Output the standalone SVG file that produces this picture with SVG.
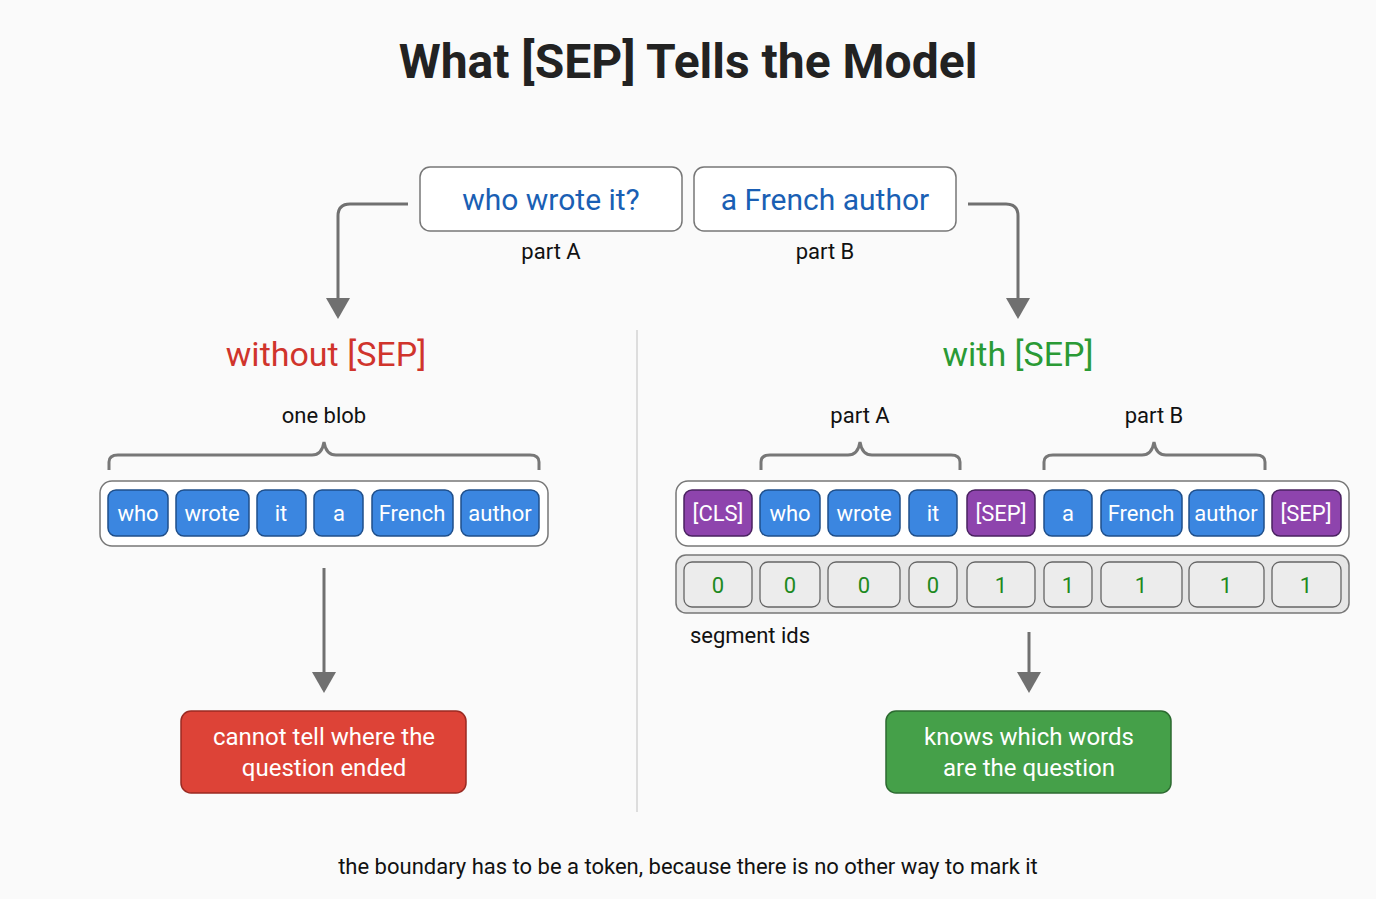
<svg xmlns="http://www.w3.org/2000/svg" width="1376" height="899" viewBox="0 0 1376 899">
<style>
text{font-family:Roboto,"Liberation Sans",sans-serif;text-anchor:middle}
.tok{fill:#3b86e0;stroke:#1f4f8a;stroke-width:1.5}
.sp{fill:#8e44ad;stroke:#4a2260;stroke-width:1.5}
.tt{fill:#fff;font-size:22px}
.seg{fill:#ececec;stroke:#666;stroke-width:1.3}
.st{fill:#1e8a1e;font-size:22px}
.ct{fill:#fff;stroke:#777;stroke-width:1.5}
.br{fill:none;stroke:#777;stroke-width:3}
.ar{fill:none;stroke:#707070;stroke-width:3;marker-end:url(#ah)}
.lb{font-size:22px;fill:#111}
</style>
<defs><marker id="ah" markerWidth="8" markerHeight="8" refX="6" refY="4" orient="auto" markerUnits="strokeWidth"><path d="M0,0 L7,4 L0,8 z" fill="#707070"/></marker></defs>
<rect width="1376" height="899" fill="#fafafa"/>
<text x="688" y="78" font-size="48" font-weight="bold" fill="#222">What [SEP] Tells the Model</text>
<g id="partA"><rect x="420" y="167" width="262" height="64" rx="10" class="ct"/><text x="551" y="210" font-size="30" fill="#1a5fb4">who wrote it?</text><text x="551" y="259" class="lb">part A</text></g>
<g id="partB"><rect x="694" y="167" width="262" height="64" rx="10" class="ct"/><text x="825" y="210" font-size="30" fill="#1a5fb4">a French author</text><text x="825" y="259" class="lb">part B</text></g>
<g id="connectors">
<path class="ar" d="M408,204 H350 Q338,204 338,216 V316"/>
<path class="ar" d="M968,204 H1006 Q1018,204 1018,216 V316"/>
<path class="ar" d="M324,568 V690"/>
<path class="ar" d="M1029,632 V690"/>
</g>
<line x1="637" y1="330" x2="637" y2="812" stroke="#ddd" stroke-width="2"/>
<text x="326" y="366" font-size="34" fill="#d0342c">without [SEP]</text>
<text x="1018" y="366" font-size="34" fill="#2a9a35">with [SEP]</text>
<g id="left">
<text x="324" y="423" class="lb">one blob</text>
<path class="br" d="M109,470 V462 Q109,455 118,455 H312 Q322,455 324,442 Q326,455 336,455 H530 Q539,455 539,462 V470"/>
<rect x="100" y="481" width="448" height="65" rx="12" class="ct"/>
<rect x="108" y="490" width="60" height="46" rx="8" class="tok"/><text x="138" y="521" class="tt">who</text>
<rect x="176" y="490" width="73" height="46" rx="8" class="tok"/><text x="212" y="521" class="tt">wrote</text>
<rect x="257" y="490" width="49" height="46" rx="8" class="tok"/><text x="281" y="521" class="tt">it</text>
<rect x="314" y="490" width="49" height="46" rx="8" class="tok"/><text x="339" y="521" class="tt">a</text>
<rect x="372" y="490" width="81" height="46" rx="8" class="tok"/><text x="412" y="521" class="tt">French</text>
<rect x="461" y="490" width="78" height="46" rx="8" class="tok"/><text x="500" y="521" class="tt">author</text>
</g>
<g id="right">
<text x="860" y="423" class="lb">part A</text>
<text x="1154" y="423" class="lb">part B</text>
<path class="br" d="M761,470 V462 Q761,455 770,455 H848 Q858,455 860,442 Q862,455 872,455 H951 Q960,455 960,462 V470"/>
<path class="br" d="M1044,470 V462 Q1044,455 1053,455 H1142 Q1152,455 1154,442 Q1156,455 1166,455 H1256 Q1265,455 1265,462 V470"/>
<rect x="676" y="481" width="673" height="65" rx="12" class="ct"/>
<rect x="684" y="490" width="68" height="46" rx="8" class="sp"/><text x="718" y="521" class="tt">[CLS]</text>
<rect x="760" y="490" width="60" height="46" rx="8" class="tok"/><text x="790" y="521" class="tt">who</text>
<rect x="828" y="490" width="72" height="46" rx="8" class="tok"/><text x="864" y="521" class="tt">wrote</text>
<rect x="909" y="490" width="48" height="46" rx="8" class="tok"/><text x="933" y="521" class="tt">it</text>
<rect x="967" y="490" width="68" height="46" rx="8" class="sp"/><text x="1001" y="521" class="tt">[SEP]</text>
<rect x="1044" y="490" width="48" height="46" rx="8" class="tok"/><text x="1068" y="521" class="tt">a</text>
<rect x="1101" y="490" width="81" height="46" rx="8" class="tok"/><text x="1141" y="521" class="tt">French</text>
<rect x="1189" y="490" width="75" height="46" rx="8" class="tok"/><text x="1226" y="521" class="tt">author</text>
<rect x="1272" y="490" width="69" height="46" rx="8" class="sp"/><text x="1306" y="521" class="tt">[SEP]</text>
<rect x="676" y="555" width="673" height="58" rx="10" fill="#e6e6e6" stroke="#777" stroke-width="1.5"/>
<rect x="684" y="562" width="68" height="45" rx="8" class="seg"/><text x="718" y="593" class="st">0</text>
<rect x="760" y="562" width="60" height="45" rx="8" class="seg"/><text x="790" y="593" class="st">0</text>
<rect x="828" y="562" width="72" height="45" rx="8" class="seg"/><text x="864" y="593" class="st">0</text>
<rect x="909" y="562" width="48" height="45" rx="8" class="seg"/><text x="933" y="593" class="st">0</text>
<rect x="967" y="562" width="68" height="45" rx="8" class="seg"/><text x="1001" y="593" class="st">1</text>
<rect x="1044" y="562" width="48" height="45" rx="8" class="seg"/><text x="1068" y="593" class="st">1</text>
<rect x="1101" y="562" width="81" height="45" rx="8" class="seg"/><text x="1141" y="593" class="st">1</text>
<rect x="1189" y="562" width="75" height="45" rx="8" class="seg"/><text x="1226" y="593" class="st">1</text>
<rect x="1272" y="562" width="69" height="45" rx="8" class="seg"/><text x="1306" y="593" class="st">1</text>
<text x="750" y="643" class="lb">segment ids</text>
</g>
<g id="bad"><rect x="181" y="711" width="285" height="82" rx="10" fill="#dd4337" stroke="#9a2a22" stroke-width="1.5"/><text x="324" y="745" font-size="24" fill="#fff">cannot tell where the</text><text x="324" y="776" font-size="24" fill="#fff">question ended</text></g>
<g id="good"><rect x="886" y="711" width="285" height="82" rx="10" fill="#45a049" stroke="#2c6a30" stroke-width="1.5"/><text x="1029" y="745" font-size="24" fill="#fff">knows which words</text><text x="1029" y="776" font-size="24" fill="#fff">are the question</text></g>
<text x="688" y="874" class="lb">the boundary has to be a token, because there is no other way to mark it</text>
</svg>
